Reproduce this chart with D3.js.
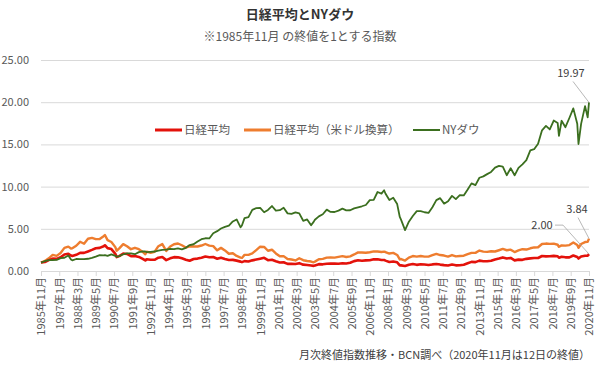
<!DOCTYPE html>
<html><head><meta charset="utf-8">
<script src="https://cdn.jsdelivr.net/npm/d3@7"></script>
<style>body{margin:0;background:#fff}svg{display:block}</style>
</head><body>
<svg id="chart" width="600" height="367"></svg>
<script>
const dates = ["1985-11","1986-02","1986-05","1986-08","1986-11","1987-02","1987-05","1987-08","1987-10","1987-11",
"1988-02","1988-05","1988-08","1988-11","1989-02","1989-05","1989-08","1989-11","1989-12","1990-02",
"1990-05","1990-08","1990-09","1990-11","1991-02","1991-05","1991-08","1991-11","1992-02","1992-05",
"1992-07","1992-08","1992-11","1993-02","1993-05","1993-08","1993-11","1994-02","1994-05","1994-08",
"1994-11","1995-02","1995-05","1995-08","1995-11","1996-02","1996-05","1996-08","1996-11","1997-02",
"1997-05","1997-08","1997-11","1998-02","1998-05","1998-08","1998-09","1998-11","1999-02","1999-05",
"1999-08","1999-11","2000-02","2000-05","2000-08","2000-11","2001-02","2001-05","2001-08","2001-11",
"2002-02","2002-05","2002-08","2002-11","2003-02","2003-04","2003-05","2003-08","2003-11","2004-02",
"2004-05","2004-08","2004-11","2005-02","2005-05","2005-08","2005-11","2006-02","2006-05","2006-08",
"2006-11","2007-02","2007-05","2007-08","2007-10","2007-11","2008-02","2008-05","2008-08","2008-10",
"2008-11","2009-02","2009-05","2009-08","2009-11","2010-02","2010-05","2010-08","2010-11","2011-02",
"2011-05","2011-08","2011-11","2012-02","2012-05","2012-08","2012-11","2013-02","2013-05","2013-08",
"2013-11","2014-02","2014-05","2014-08","2014-11","2015-02","2015-05","2015-08","2015-11","2016-02",
"2016-05","2016-08","2016-11","2017-02","2017-05","2017-08","2017-11","2018-02","2018-05","2018-08",
"2018-11","2018-12","2019-02","2019-05","2019-08","2019-11","2020-02","2020-03","2020-05","2020-08",
"2020-10","2020-11"];

const nikkei = [1.00,1.07,1.29,1.47,1.44,1.63,1.96,2.04,1.83,1.78,
1.92,2.15,2.15,2.32,2.50,2.69,2.74,2.93,3.05,2.71,
2.60,2.03,1.65,1.76,2.07,2.02,1.76,1.78,1.67,1.44,
1.25,1.40,1.33,1.33,1.58,1.65,1.29,1.50,1.64,1.62,
1.50,1.34,1.21,1.42,1.47,1.58,1.72,1.62,1.65,1.46,
1.58,1.43,1.30,1.32,1.23,1.11,1.05,1.17,1.13,1.26,
1.36,1.46,1.56,1.28,1.33,1.15,1.01,1.04,0.84,0.84,
0.83,0.93,0.75,0.72,0.66,0.61,0.66,0.81,0.79,0.86,
0.88,0.87,0.86,0.92,0.89,0.97,1.17,1.27,1.22,1.26,
1.28,1.38,1.40,1.30,1.31,1.23,1.07,1.12,1.03,0.67,
0.67,0.60,0.75,0.82,0.73,0.79,0.77,0.71,0.78,0.83,
0.76,0.70,0.66,0.76,0.67,0.69,0.74,0.91,1.08,1.05,
1.23,1.16,1.15,1.21,1.37,1.47,1.61,1.48,1.55,1.26,
1.35,1.32,1.44,1.50,1.54,1.54,1.78,1.73,1.74,1.79,
1.75,1.57,1.68,1.62,1.62,1.83,1.66,1.48,1.72,1.81,
1.80,2.00];

const nikkeiUSD = [1.00,1.19,1.50,1.91,1.79,2.14,2.74,2.89,2.67,2.69,
2.99,3.46,3.23,3.82,3.93,3.78,3.80,4.12,4.26,3.66,
3.44,2.83,2.40,2.68,3.18,2.94,2.58,2.75,2.58,2.26,
1.98,2.29,2.16,2.27,2.94,3.19,2.38,2.90,3.17,3.26,
3.05,2.78,2.93,2.91,2.90,3.02,3.20,3.01,2.94,2.45,
2.74,2.44,2.04,2.11,1.78,1.58,1.55,1.91,1.91,2.08,
2.48,2.88,2.85,2.40,2.52,2.08,1.74,1.76,1.42,1.36,
1.25,1.51,1.28,1.19,1.12,1.03,1.11,1.39,1.44,1.59,
1.61,1.59,1.68,1.76,1.66,1.74,1.96,2.20,2.19,2.16,
2.22,2.33,2.31,2.25,2.29,2.25,2.07,2.14,1.90,1.37,
1.42,1.24,1.59,1.77,1.71,1.78,1.70,1.70,1.87,2.03,
1.89,1.83,1.70,1.89,1.73,1.78,1.81,1.99,2.15,2.15,
2.42,2.29,2.27,2.34,2.31,2.46,2.61,2.46,2.53,2.24,
2.44,2.58,2.54,2.69,2.79,2.81,3.20,3.25,3.21,3.24,
3.11,2.87,3.04,3.01,3.07,3.37,3.09,2.75,3.20,3.43,
3.45,3.84];

const nyDow = [1.00,1.17,1.29,1.30,1.31,1.53,1.57,1.83,1.37,1.26,
1.42,1.40,1.40,1.45,1.55,1.70,1.88,1.86,1.89,1.80,
1.98,1.80,1.68,1.76,1.98,2.08,2.09,1.99,2.24,2.33,
2.31,2.24,2.27,2.31,2.42,2.51,2.53,2.63,2.58,2.69,
2.57,2.75,3.07,3.17,3.49,3.77,3.88,3.86,4.48,4.72,
5.03,5.23,5.37,5.87,6.11,5.18,5.39,6.26,6.39,7.25,
7.44,7.47,6.96,7.23,7.70,7.15,7.21,7.49,6.83,6.77,
6.94,6.82,5.95,6.11,5.42,5.82,6.08,6.47,6.72,7.27,
7.00,6.99,7.16,7.39,7.19,7.20,7.42,7.55,7.67,7.82,
8.39,8.43,9.36,9.17,9.57,9.18,8.42,8.68,7.93,6.40,
6.06,4.85,5.84,6.52,7.10,7.09,6.96,6.88,7.56,8.40,
8.63,7.98,8.27,8.90,8.51,8.99,8.95,9.65,10.38,10.17,
11.05,11.21,11.48,11.74,12.24,12.45,12.37,11.35,12.17,11.34,
12.22,12.64,13.13,14.29,14.43,15.07,16.67,17.19,16.77,17.83,
17.54,16.02,17.80,17.04,18.13,19.27,17.45,15.05,17.43,19.53,
18.20,19.97];

const seriesNames = ["日経平均", "日経平均（米ドル換算）", "NYダウ"];
const seriesColors = ["#e3120b", "#ee7d2f", "#3b6f1f"];
const yTicks = [0, 5, 10, 15, 20, 25];
const xTickMonths = ["1985-11","1987-01","1988-03","1989-05","1990-07","1991-09","1992-11","1994-01",
"1995-03","1996-05","1997-07","1998-09","1999-11","2001-01","2002-03","2003-05","2004-07","2005-09",
"2006-11","2008-01","2009-03","2010-05","2011-07","2012-09","2013-11","2015-01","2016-03","2017-05",
"2018-07","2019-09","2020-11"];

const FONT = "'Noto Sans CJK JP','Noto Sans',sans-serif";
const parse = d3.timeParse("%Y-%m");
const svg = d3.select("#chart").style("font-family", FONT);

const x = d3.scaleTime().domain([parse("1985-11"), parse("2020-11")]).range([41, 589]);
const y = d3.scaleLinear().domain([0, 25]).range([271, 60]);

// title
svg.append("text").attr("x", 300).attr("y", 19).attr("text-anchor", "middle")
  .attr("font-size", 13).attr("font-weight", "bold").attr("fill", "#333").text("日経平均とNYダウ");
svg.append("text").attr("x", 300).attr("y", 41).attr("text-anchor", "middle")
  .attr("font-size", 12).attr("fill", "#595959").text("※1985年11月 の終値を1とする指数");

// gridlines + y labels
const yAxis = d3.axisLeft(y).tickValues(yTicks).tickFormat(d3.format(".2f"))
  .tickSize(-(589 - 41)).tickPadding(12);
const gy = svg.append("g").attr("transform", "translate(41,0)").call(yAxis);
gy.select(".domain").remove();
gy.selectAll(".tick line").attr("stroke", "#d9d9d9").attr("stroke-width", 1);
gy.selectAll(".tick text").attr("font-size", 11).attr("fill", "#595959").attr("font-family", FONT);

// x axis
const xAxis = d3.axisBottom(x).tickValues(xTickMonths.map(parse))
  .tickFormat(d3.timeFormat("%Y年%-m月")).tickSize(5).tickSizeOuter(0);
const gx = svg.append("g").attr("transform", "translate(0,271)").call(xAxis);
gx.select(".domain").attr("stroke", "#d9d9d9");
gx.selectAll(".tick line").attr("stroke", "#d9d9d9");
gx.selectAll(".tick text").attr("font-size", 11).attr("fill", "#595959").attr("font-family", FONT)
  .attr("text-anchor", "end").attr("dy", "0.35em")
  .attr("transform", "translate(0,-3) rotate(-90)").attr("x", -9).attr("y", 0);

// lines
const seriesData = [nikkei, nikkeiUSD, nyDow];
const widths = [2.6, 2.4, 1.8];
const line = d3.line().x(d => x(d[0])).y(d => y(d[1]));
[1, 0, 2].forEach(i => {
  const pts = dates.map((d, k) => [parse(d), seriesData[i][k]]);
  svg.append("path").datum(pts).attr("d", line).attr("fill", "none")
    .attr("stroke", seriesColors[i]).attr("stroke-width", widths[i]).attr("stroke-linejoin", "round");
});

// legend
const legendX = [155, 244, 413];
seriesNames.forEach((n, i) => {
  const g = svg.append("g");
  g.append("line").attr("x1", legendX[i]).attr("x2", legendX[i] + 27).attr("y1", 130).attr("y2", 130)
    .attr("stroke", seriesColors[i]).attr("stroke-width", i === 2 ? 2 : 3);
  g.append("text").attr("x", legendX[i] + 29).attr("y", 134).attr("font-size", 11.5)
    .attr("fill", "#595959").text(n);
});

// end annotations
const last = dates.length - 1;
const lx = x(parse(dates[last]));
function annot(val, tx, ty, path) {
  svg.append("path").attr("d", path).attr("fill", "none").attr("stroke", "#a6a6a6").attr("stroke-width", 0.8);
  svg.append("text").attr("x", tx).attr("y", ty).attr("text-anchor", "middle").attr("font-size", 11)
    .attr("fill", "#404040").text(val.toFixed(2));
}
const yd = y(nyDow[last]), yu = y(nikkeiUSD[last]), yn = y(nikkei[last]);
annot(nyDow[last], lx - 18, yd - 25, `M${lx - 16},${yd - 21} L${lx},${yd}`);
annot(nikkeiUSD[last], lx - 12, yu - 26, `M${lx - 11},${yu - 21} L${lx},${yu}`);
annot(nikkei[last], lx - 47, yn - 25, `M${lx - 34},${yn - 29} L${lx - 26},${yn - 29} L${lx},${yn}`);

// footnote
svg.append("text").attr("x", 590).attr("y", 359).attr("text-anchor", "end").attr("font-size", 11)
  .attr("fill", "#404040").text("月次終値指数推移・BCN調べ（2020年11月は12日の終値）");
</script>
</body></html>
